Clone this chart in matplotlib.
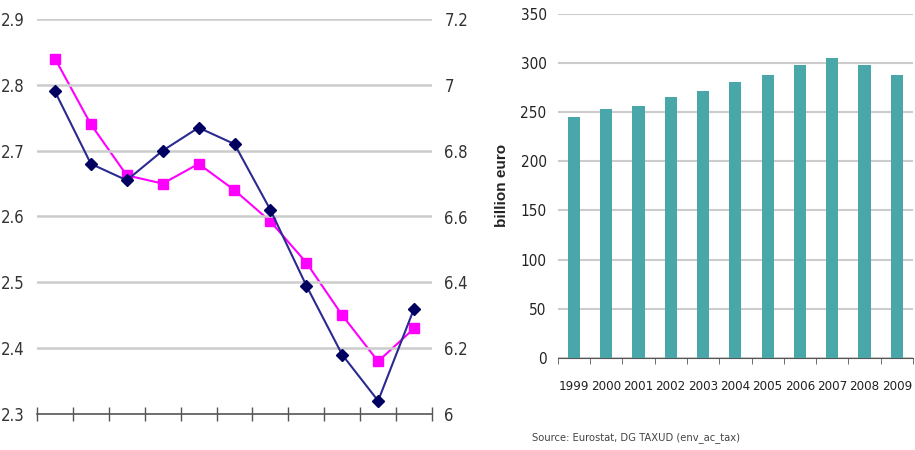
import matplotlib
matplotlib.use("Agg")
import matplotlib.pyplot as plt
import numpy as np

plt.rcParams['font.family'] = ['DejaVu Sans']
plt.rcParams['font.stretch'] = 'condensed'

# Left chart data (11 periods)
periods = list(range(11))
share_gdp = [2.79, 2.68, 2.655, 2.70, 2.735, 2.71, 2.61, 2.495, 2.39, 2.32, 2.46]       # left axis
share_taxes = [7.08, 6.88, 6.725, 6.70, 6.76, 6.68, 6.585, 6.46, 6.30, 6.16, 6.26]   # right axis

# Right chart data
years = ['1999', '2000', '2001', '2002', '2003', '2004', '2005', '2006', '2007', '2008', '2009']
revenue = [245, 253, 256, 265, 272, 281, 288, 298, 305, 298, 288]

fig = plt.figure(figsize=(9.15, 4.5), dpi=100)

# ---- Left panel ----
ax = fig.add_axes([37/915, 36/450, 395/915, 395/450])
ax2 = ax.twinx()
ax.set_xlim(-0.5, 10.5)
ax.set_ylim(2.3, 2.9)
ax2.set_ylim(6.0, 7.2)
ax.set_yticks([2.3, 2.4, 2.5, 2.6, 2.7, 2.8, 2.9])
ax.set_yticklabels(['2.3', '2.4', '2.5', '2.6', '2.7', '2.8', '2.9'])
ax2.set_yticks([6.0, 6.2, 6.4, 6.6, 6.8, 7.0, 7.2])
ax2.set_yticklabels(['6', '6.2', '6.4', '6.6', '6.8', '7', '7.2'])
for y in [2.4, 2.5, 2.6, 2.7, 2.8, 2.9]:
    ax.axhline(y, color='#cccccc', lw=1.8, zorder=0)
for a in (ax, ax2):
    for s in ['top', 'left', 'right', 'bottom']:
        a.spines[s].set_visible(False)
ax.spines['bottom'].set_visible(True)
ax.spines['bottom'].set_color('#555555')
ax.spines['bottom'].set_linewidth(1.2)
ax.set_xticks(np.arange(-0.5, 11, 1.0))
ax.set_xticklabels([])
ax.tick_params(axis='x', direction='inout', length=10, color='#555555', width=1)
ax.tick_params(axis='y', length=0, labelsize=12, labelcolor='#333333', pad=9)
ax2.tick_params(axis='y', length=0, labelsize=12, labelcolor='#333333', pad=9)

ax.plot(periods, share_gdp, color='#2a2a90', lw=1.5, marker='D', ms=6,
        mfc='#000060', mec='#000060', zorder=3)
ax2.plot(periods, share_taxes, color='#ff00ff', lw=1.5, marker='s', ms=7,
         mfc='#ff00ff', mec='#ff00ff', zorder=3)
ax2.set_zorder(ax.get_zorder() - 1)
ax.patch.set_visible(False)

# ---- Right panel ----
bx = fig.add_axes([557.7/915, 92.3/450, 355.3/915, 343.7/450])
x = np.arange(len(years))
bx.bar(x, revenue, width=0.38, color='#4aa7a9', zorder=3)
bx.set_xlim(-0.5, 10.5)
bx.set_ylim(0, 350)
bx.set_yticks(range(0, 351, 50))
bx.yaxis.grid(True, color='#cccccc', lw=1.5, zorder=0)
for s in ['top', 'left', 'right']:
    bx.spines[s].set_visible(False)
bx.spines['bottom'].set_color('#555555')
bx.set_xticks(x)
bx.set_xticklabels(years)
bx.set_xticks(np.arange(-0.5, 11, 1.0), minor=True)
bx.tick_params(axis='x', which='major', length=0, labelsize=9.5, pad=16, labelcolor='#222222')
bx.tick_params(axis='x', which='minor', direction='out', length=4, color='#555555')
bx.tick_params(axis='y', length=0, labelsize=11, labelcolor='#222222', pad=8)
bx.set_ylabel('billion euro', fontsize=11, fontweight='bold', color='#222222',
              family=['Liberation Sans', 'DejaVu Sans'], fontstretch='normal', labelpad=8)

fig.text(532/915, 1 - 438/450, 'Source: Eurostat, DG TAXUD (env_ac_tax)', fontsize=8,
         color='#444444', va='center', ha='left')

fig.savefig('out.png', dpi=100)
